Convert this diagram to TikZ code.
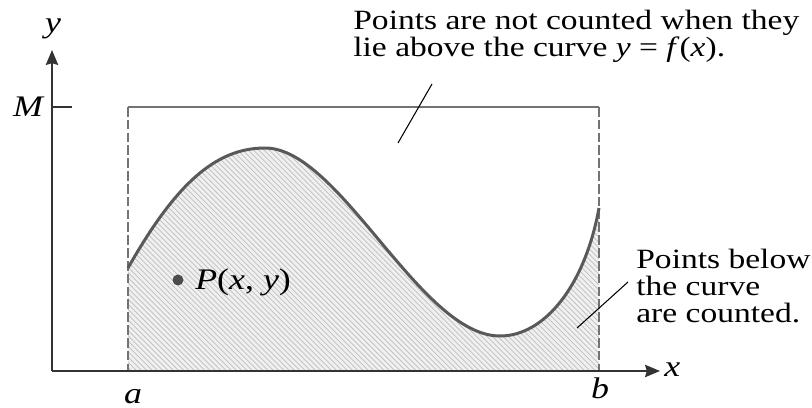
\documentclass[tikz,border=0pt]{standalone}
\usepackage{fontspec}
\setmainfont{Liberation Serif}[FakeStretch=1.2]
\usetikzlibrary{arrows.meta,patterns}
\newcommand{\mv}[1]{\textit{#1}}
\tikzset{
  axisline/.style={line width=1.1pt, draw=black!80, -{Stealth[length=8.5pt,width=7pt,inset=1pt]}},
  boxline/.style={line width=0.8pt, draw=black!55},
  curveline/.style={line width=1.7pt, draw=black!65},
  hatch/.style={fill=black!6, postaction={pattern=north west lines, pattern color=black!25}},
  leader/.style={line width=0.6pt, draw=black},
  lbl/.style={inner sep=0pt, anchor=base, font=\fontsize{17}{19}\selectfont\itshape},
  note/.style={inner sep=0pt, align=left, anchor=base west},
  dot/.style={circle, fill=black!70, inner sep=0pt, minimum size=0.22cm}
}
\begin{document}
\begin{tikzpicture}[x=0.02cm, y=-0.02cm]
  \useasboundingbox (0,0) rectangle (812,408);
  % Region below the curve
  \path[hatch] (128,371) -- (128,268)
    .. controls (175,185) and (215,148) .. (265,148)
    .. controls (340,148) and (420,336) .. (500,336)
    .. controls (545,336) and (585,285) .. (599,208)
    -- (599,371) -- cycle;
  % Box [a,b] x [0,M]
  \draw[boxline] (128,107) -- (599,107);
  \draw[boxline, dash pattern=on 5.5pt off 1.8pt] (128,107) -- (128,371);
  \draw[boxline, dash pattern=on 5.5pt off 1.8pt] (599,107) -- (599,371);
  % Curve y = f(x)
  \draw[curveline] (128,268)
    .. controls (175,185) and (215,148) .. (265,148)
    .. controls (340,148) and (420,336) .. (500,336)
    .. controls (545,336) and (585,285) .. (599,208);
  % Axes
  \coordinate (O) at (52,371);
  \coordinate (xend) at (660,371);
  \coordinate (yend) at (52,50);
  \draw[axisline] (O) -- (xend);
  \draw[axisline] (O) -- (yend);
  \coordinate (mtick) at (52,107);
  \coordinate (mtickend) at (72,107);
  \draw[line width=1.1pt, draw=black!80] (mtick) -- (mtickend);
  % Axis labels
  \node[lbl] (ylab) at (53,33) {y};
  \node[lbl] (mlab) at (28,117) {M};
  \node[lbl] (alab) at (133,404) {a};
  \node[lbl] (blab) at (600,399) {b};
  \node[lbl, anchor=base west] (xlab) at (664,377) {x};
  % Point P
  \node[dot] (pdot) at (178,280) {};
  \node[lbl, anchor=base west, font=\fontsize{17}{19}\selectfont] (plab) at (195,290) {\mv{P}(\mv{x}, \mv{y})};
  % Notes
  \node[note, font=\fontsize{15.9}{13.6}\selectfont] (topnote) at (353,57)
    {Points are not counted when they\\lie above the curve \mv{y} = \mv{f}(\mv{x}).};
  \node[note, font=\fontsize{15.9}{15.6}\selectfont] (rightnote) at (636,323)
    {Points below\\the curve\\are counted.};
  \coordinate (topfrom) at (432,84);
  \coordinate (topto) at (398,143);
  \draw[leader] (topfrom) -- (topto);
  \coordinate (rightfrom) at (628,282);
  \coordinate (rightto) at (577,328);
  \draw[leader] (rightfrom) -- (rightto);
\end{tikzpicture}
\end{document}
